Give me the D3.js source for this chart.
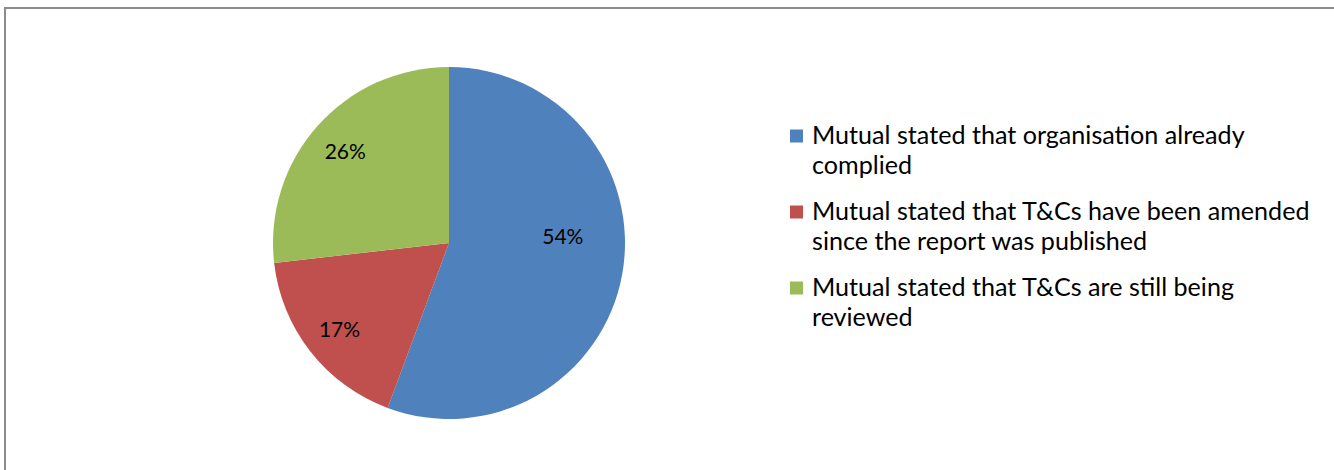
<!DOCTYPE html>
<html>
<head>
<meta charset="utf-8">
<script src="https://cdn.jsdelivr.net/npm/d3@7"></script>
<style>
  html, body { margin: 0; padding: 0; background: #fff; }
  svg { display: block; }
  text { font-family: Lato, "Open Sans", sans-serif; fill: #000; }
</style>
</head>
<body>
<svg id="chart" width="1334" height="470"></svg>
<script>
// Survey responses from mutuals
const categories = [
  "Mutual stated that organisation already complied",
  "Mutual stated that T&Cs have been amended since the report was published",
  "Mutual stated that T&Cs are still being reviewed"
];
const values = [54, 17, 26];
const valueLabels = ["54%", "17%", "26%"];
const colors = ["#4F81BD", "#C0504D", "#9BBB59"];

const svg = d3.select("#chart");

// Chart area frame (runs off the right and bottom edges)
svg.append("rect")
  .attr("x", 5).attr("y", 8)
  .attr("width", 1400).attr("height", 500)
  .attr("fill", "#fff")
  .attr("stroke", "#8c8c8c")
  .attr("stroke-width", 2);

const cx = 449, cy = 243, radius = 176;

const pie = d3.pie().sort(null).value(d => d);
const arcs = pie(values);
const arc = d3.arc().innerRadius(0).outerRadius(radius);
const labelArc = d3.arc().innerRadius(radius * 0.79).outerRadius(radius * 0.79);

const g = svg.append("g").attr("transform", `translate(${cx},${cy})`);

g.selectAll("path.slice")
  .data(arcs)
  .join("path")
  .attr("class", "slice")
  .attr("d", arc)
  .attr("fill", (d, i) => colors[i]);

// Best-fit label placement: the large slice's label sits nearer the middle
const labelNudge = [[-23, -32], [0, 0], [0, 0]];

function fitSize(str, target, base) {
  const t = svg.append("text").attr("font-size", base).text(str);
  const w = t.node().getComputedTextLength();
  t.remove();
  return base * target / w;
}
const labelSize = 21;

g.selectAll("text.val")
  .data(arcs)
  .join("text")
  .attr("class", "val")
  .attr("text-anchor", "middle")
  .attr("dominant-baseline", "central")
  .attr("font-size", labelSize)
  .attr("transform", (d, i) => {
    const [x, y] = labelArc.centroid(d);
    return `translate(${x + labelNudge[i][0]},${y + labelNudge[i][1]})`;
  })
  .text((d, i) => valueLabels[i]);

// Legend
const legendSize = fitSize("Mutual stated that organisation already", 433, 20);
const wrapWidth = 505;
const legendX = 790, textX = 812;
const markerMid = [136, 212, 288];
const lineH = 30.5;

function wrapLines(str, size, maxW) {
  const words = str.split(" ");
  const lines = [];
  let cur = "";
  const t = svg.append("text").attr("font-size", size);
  words.forEach(w => {
    const test = cur ? cur + " " + w : w;
    t.text(test);
    if (t.node().getComputedTextLength() > maxW && cur) {
      lines.push(cur);
      cur = w;
    } else cur = test;
  });
  if (cur) lines.push(cur);
  t.remove();
  return lines;
}

const legend = svg.append("g");
categories.forEach((c, i) => {
  const item = legend.append("g");
  item.append("rect")
    .attr("x", legendX).attr("y", markerMid[i] - 6.5)
    .attr("width", 13).attr("height", 13)
    .attr("fill", colors[i]);
  const lines = wrapLines(c, legendSize, wrapWidth);
  const txt = item.append("text")
    .attr("font-size", legendSize)
    .attr("x", textX)
    .attr("y", markerMid[i] + 7.5);
  lines.forEach((ln, j) => {
    txt.append("tspan")
      .attr("x", textX)
      .attr("dy", j === 0 ? 0 : lineH)
      .text(ln);
  });
});
</script>
</body>
</html>
